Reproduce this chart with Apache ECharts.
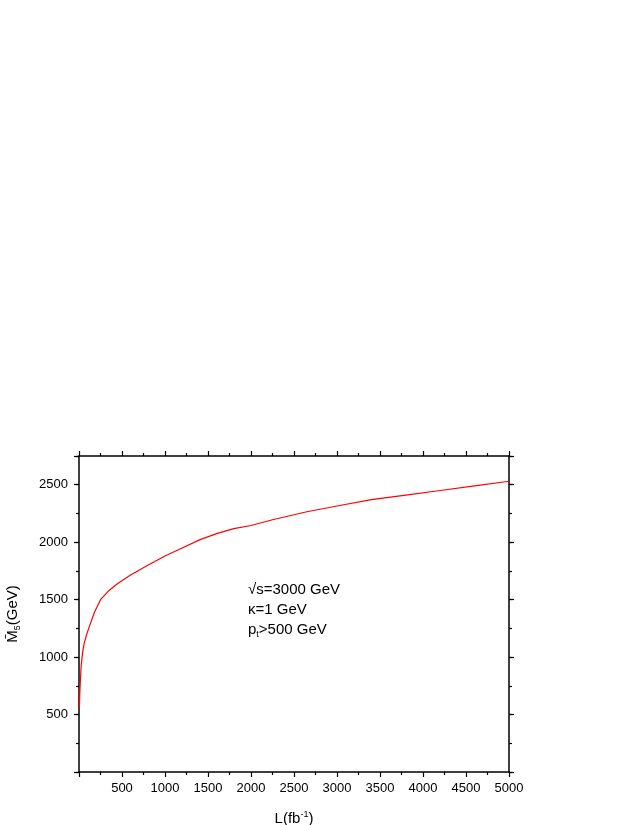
<!DOCTYPE html>
<html>
<head>
<meta charset="utf-8">
<script src="https://cdn.jsdelivr.net/npm/echarts@6/dist/echarts.min.js"></script>
<style>html,body{margin:0;padding:0;background:#fff;}#c{width:638px;height:825px;}</style>
</head>
<body>
<div id="c"></div>
<script>
const luminosity = [5, 10, 15, 25, 40, 60, 90, 120, 180, 250, 350, 450, 600, 800, 1000, 1200, 1400, 1600, 1800, 2000, 2250, 2650, 3000, 3400, 3800, 4200, 4600, 5000];
const m5Bound = [560, 700, 780, 920, 1030, 1120, 1200, 1265, 1390, 1500, 1580, 1640, 1715, 1800, 1880, 1950, 2020, 2075, 2118, 2145, 2195, 2265, 2315, 2370, 2410, 2450, 2490, 2530];
const xTickLabels = ['500','1000','1500','2000','2500','3000','3500','4000','4500','5000'];
const yTickLabels = ['500','1000','1500','2000','2500'];
const annotationLines = ['√s=3000 GeV', 'κ=1 GeV', 'p_t>500 GeV'];

const FONT = 'Liberation Sans, Arial, sans-serif';
const chart = echarts.init(document.getElementById('c'), null, {renderer: 'canvas'});
const lineStyle = {color: '#000', width: 1.5};
const grid = {left: 79, top: 456, width: 430, height: 316, containLabel: false, outerBoundsMode: 'none'};
function xAx(pos, showLabel, interval, tickLen, showLine, name) {
  const a = {
    type: 'value', position: pos, min: 0, max: 5000, interval: interval,
    axisLine: {show: showLine, onZero: false, lineStyle: lineStyle},
    axisTick: {show: true, length: tickLen, inside: false, lineStyle: {color: '#000', width: 1.2}},
    splitLine: {show: false},
    axisLabel: {show: showLabel, color: '#000', fontFamily: FONT, fontSize: 13, margin: 10,
      formatter: v => xTickLabels.indexOf(String(v)) >= 0 ? String(v) : ''}
  };
  if (name) {
    a.name = '{a|L(fb}{s|-1}{a|)}';
    a.nameLocation = 'middle';
    a.nameGap = 38;
    a.nameTextStyle = {rich: {a: {fontFamily: FONT, fontSize: 15, color: '#000', lineHeight: 18}, s: {fontFamily: FONT, fontSize: 9, color: '#000', lineHeight: 10, verticalAlign: 'top'}}};
  }
  return a;
}
function yAx(pos, showLabel, interval, tickLen, showLine, name) {
  const a = {
    type: 'value', position: pos, min: 0, max: 2750, interval: interval,
    axisLine: {show: showLine, onZero: false, lineStyle: lineStyle},
    axisTick: {show: true, length: tickLen, inside: false, lineStyle: {color: '#000', width: 1.2}},
    splitLine: {show: false},
    axisLabel: {show: showLabel, color: '#000', fontFamily: FONT, fontSize: 13, margin: 11,
      formatter: v => yTickLabels.indexOf(String(v)) >= 0 ? String(v) : ''}
  };
  if (name) {
    a.name = '{a|M\u0304}{s|5}{a|(GeV)}';
    a.nameLocation = 'middle';
    a.nameGap = 57;
    a.nameTextStyle = {rich: {a: {fontFamily: FONT, fontSize: 15, color: '#000', lineHeight: 18}, s: {fontFamily: FONT, fontSize: 9, color: '#000', lineHeight: 10, verticalAlign: 'bottom'}}};
  }
  return a;
}
const minor = {show: true, splitNumber: 2, length: 3, lineStyle: {color: '#000', width: 1.2}};
const option = {
  animation: false,
  backgroundColor: '#fff',
  grid: grid,
  xAxis: [
    Object.assign(xAx('bottom', true, 500, 5, true, true), {minorTick: minor}),
    Object.assign(xAx('top', false, 500, 5, true, false), {minorTick: minor})
  ],
  yAxis: [
    yAx('left', true, 500, 5, true, true),
    yAx('left', false, 250, 3, false, false),
    yAx('right', false, 500, 5, true, false),
    yAx('right', false, 250, 3, false, false)
  ],
  series: [{
    type: 'line', xAxisIndex: 0, yAxisIndex: 0,
    data: luminosity.map((x, i) => [x, m5Bound[i]]),
    smooth: false, showSymbol: false, symbol: 'none',
    lineStyle: {color: '#ff0000', width: 1.2}
  }],
  graphic: [{
    type: 'text', left: 248, top: 582,
    style: {
      text: '{a|' + annotationLines[0] + '}\n{a|' + annotationLines[1] + '}\n{a|p}{s|t}{a|>500 GeV}',
      rich: {
        a: {fontFamily: FONT, fontSize: 15, fill: '#000', lineHeight: 20},
        s: {fontFamily: FONT, fontSize: 9, fill: '#000', lineHeight: 10, verticalAlign: 'bottom'}
      }
    }
  }]
};
chart.setOption(option);
</script>
</body>
</html>
